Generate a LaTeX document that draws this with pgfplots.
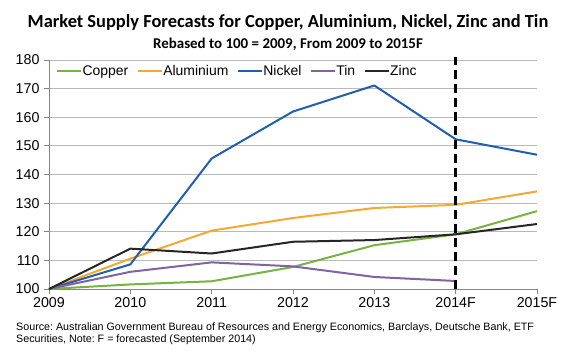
\documentclass[border=0pt]{standalone}
\usepackage{pgfplots}
\pgfplotsset{compat=1.18}
\usepackage{fontspec}
\setmainfont{Liberation Sans}
\newfontfamily\carlito{Carlito}
\frenchspacing
\definecolor{cCopper}{RGB}{119,179,65}
\definecolor{cAlu}{RGB}{247,168,51}
\definecolor{cNickel}{RGB}{31,94,176}
\definecolor{cTin}{RGB}{128,100,162}
\definecolor{cZinc}{RGB}{38,38,38}
\definecolor{axgray}{RGB}{134,134,134}
\definecolor{gridgray}{RGB}{185,185,185}
\begin{document}
\begin{tikzpicture}
\path[use as bounding box] (0,0) rectangle (576bp,354bp);
\begin{axis}[
  at={(49bp,65bp)}, anchor=south west,
  scale only axis, width=488bp, height=229bp,
  xmin=0, xmax=6, ymin=100, ymax=180,
  xtick={0,...,6},
  xticklabels={2009,2010,2011,2012,2013,2014F,2015F},
  ytick={100,110,...,180},
  axis x line*=bottom, axis y line*=left,
  axis line style={axgray, line width=0.8pt, -},
  tick style={axgray, line width=0.8pt},
  tick align=outside, major tick length=5bp,
  ymajorgrids, grid style={gridgray, line width=0.8pt},
  tick label style={font=\fontsize{14.3}{16}\selectfont, text=black},
  /pgf/number format/assume math mode=true,
  /pgf/number format/1000 sep={},
  yticklabel style={xshift=-1bp},
  xticklabel style={yshift=-0.5bp},
  clip=false,
  every axis plot/.append style={line width=2bp, line join=round},
  legend style={draw=none, fill=none, at={(0.014,0.985)}, anchor=north west,
    font=\fontsize{14}{16}\selectfont, inner sep=0pt,
    /tikz/every even column/.append style={column sep=8bp},
    nodes={inner xsep=0.5bp}},
  legend columns=-1,
  legend image code/.code={\draw[#1] (0bp,0bp) -- (24bp,0bp);},
]
\addplot[cCopper] coordinates {(0,100) (1,101.6) (2,102.7) (3,107.7) (4,115.3) (5,119.1) (6,127.2)};
\addlegendentry{Copper}
\addplot[cAlu] coordinates {(0,100) (1,110.6) (2,120.4) (3,124.8) (4,128.3) (5,129.4) (6,134.1)};
\addlegendentry{Aluminium}
\addplot[cNickel] coordinates {(0,100) (1,108.6) (2,145.6) (3,162.0) (4,171.1) (5,152.3) (6,146.9)};
\addlegendentry{Nickel}
\addplot[cTin] coordinates {(0,100) (1,106.0) (2,109.3) (3,107.9) (4,104.2) (5,102.8)};
\addlegendentry{Tin}
\addplot[cZinc] coordinates {(0,100) (1,114.1) (2,112.4) (3,116.5) (4,117.1) (5,119.1) (6,122.7)};
\addlegendentry{Zinc}
\addplot[black, line width=2.5bp, dash pattern=on 9bp off 5bp, forget plot] coordinates {(5,100) (5,181)};
\end{axis}
\node[font=\carlito\bfseries\fontsize{18.5}{21}\selectfont] at (288bp,332bp) {Market Supply Forecasts for Copper, Aluminium, Nickel, Zinc and Tin};
\node[font=\carlito\bfseries\fontsize{15}{17}\selectfont] at (288bp,310bp) {Rebased to 100 = 2009, From 2009 to 2015F};
\node[font=\fontsize{10.75}{13}\selectfont, anchor=base west, inner sep=0pt] at (16bp,24bp) {Source: Australian Government Bureau of Resources and Energy Economics, Barclays, Deutsche Bank, ETF};
\node[font=\fontsize{10.75}{13}\selectfont, anchor=base west, inner sep=0pt] at (16bp,11.5bp) {Securities, Note: F = forecasted (September 2014)};
\end{tikzpicture}
\end{document}
